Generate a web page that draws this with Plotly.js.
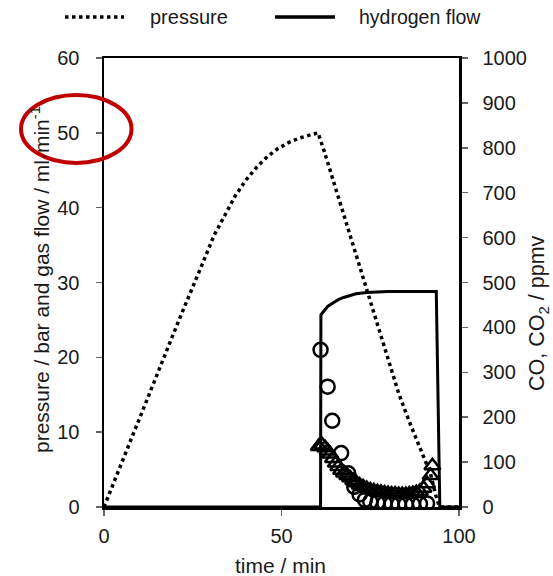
<!DOCTYPE html>
<html><head><meta charset="utf-8">
<script src="https://cdn.plot.ly/plotly-3.0.1.min.js"></script>
<style>html,body{margin:0;padding:0;background:#fff}</style>
</head><body><div id="chart" style="width:553px;height:576px"></div>
<script>
// ---- data ----
const pressureTime = [0, 2, 5, 8, 10, 13, 16, 19, 22, 25, 28, 31, 34, 37, 40, 43, 46, 49, 52, 55, 58, 60.3, 62, 65, 68, 71, 74, 77, 80, 83, 86, 88, 90, 92, 93.5, 94.5, 97, 100];
const pressureBar  = [0, 2.4, 6, 9.6, 12, 15.5, 19, 22.5, 26, 29.3, 32.8, 36.3, 39, 41.6, 43.7, 45.4, 46.8, 47.9, 48.7, 49.3, 49.7, 50, 47.6, 43, 38.3, 33.6, 29, 24.4, 19.8, 15.2, 11.4, 9, 6.6, 4.4, 1.5, 0, 0, 0];

const flowTime = [0, 61, 61.1, 62, 63, 64.6, 66, 67.5, 69.3, 71, 74, 77, 80, 90, 93.6, 94.6, 100];
const flowMl   = [0, 0, 25.7, 26.2, 26.8, 27.3, 27.7, 28.0, 28.3, 28.5, 28.65, 28.75, 28.8, 28.8, 28.8, 0, 0];

const coTime = [61, 63, 64.3, 66.8, 68.8, 70.5, 72, 73.5, 75, 77, 79, 81, 83, 85, 87, 89, 91];
const coPpm  = [350, 268, 192, 120, 75, 45, 28, 16, 12, 10, 8, 7, 6, 6, 6, 7, 8];

const co2Time = [60.5, 61.5, 62.3, 63, 63.7, 64.5, 65.3, 66, 66.8, 67.6, 68.5, 69.3, 70.2, 71.1, 72, 73, 74, 75, 76, 77, 78, 79, 80, 81, 82, 83, 84, 85, 86, 87, 88, 89, 90, 91, 92, 92.5];
const co2Ppm  = [135, 138, 132, 125, 118, 108, 98, 90, 82, 76, 70, 65, 59, 54, 49, 45, 41, 38, 36, 34, 33, 31, 30, 29, 29, 28, 28, 28, 29, 30, 32, 35, 42, 52, 70, 92];

const xTicks = [0, 50, 100];
const legendNames = ['pressure', 'hydrogen flow'];
const leftTitle = 'pressure / bar and gas flow / ml·min<sup>-1</sup>';
const rightTitle = 'CO, CO<sub>2</sub> / ppmv';
const xTitle = 'time / min';

// ---- chart ----
const FONT = 'Liberation Sans, Arial, sans-serif';
const DOT = '3.5px,3.5px';

const traces = [
  {x: pressureTime, y: pressureBar, mode: 'lines', name: legendNames[0], showlegend: false,
   line: {color: '#000', width: 3.5, dash: DOT}},
  {x: flowTime, y: flowMl, mode: 'lines', name: legendNames[1], showlegend: false,
   line: {color: '#000', width: 3}},
  {x: coTime, y: coPpm, yaxis: 'y2', mode: 'markers', name: 'CO', showlegend: false,
   marker: {symbol: 'circle-open', size: 14, color: '#000', line: {width: 2.5, color: '#000'}}},
  {x: co2Time, y: co2Ppm, yaxis: 'y2', mode: 'markers', name: 'CO2', showlegend: false,
   marker: {symbol: 'triangle-up-open', size: 14, color: '#000', line: {width: 2.5, color: '#000'}}}
];

const L = 104, R = 459, T = 58, B = 507, W = 553, H = 576;
const px = v => (v - L) / (R - L);
const py = v => (B - v) / (B - T);

const axisCommon = {
  showgrid: false, zeroline: false, showline: true, linecolor: '#000', linewidth: 2.5,
  ticks: 'outside', ticklen: 6, tickwidth: 1.5, tickcolor: '#666',
  tickfont: {family: FONT, size: 20, color: '#1a1a1a'}
};

const layout = {
  width: W, height: H,
  margin: {l: L, r: W - R, t: T, b: H - B, pad: 0},
  paper_bgcolor: '#fff', plot_bgcolor: '#fff',
  showlegend: false,
  xaxis: Object.assign({}, axisCommon, {range: [0, 100], tickvals: xTicks, mirror: true, ticklabelstandoff: 3}),
  yaxis: Object.assign({}, axisCommon, {range: [0, 60], dtick: 10, ticklabelstandoff: 12}),
  yaxis2: Object.assign({}, axisCommon, {range: [0, 1000], dtick: 100, overlaying: 'y', side: 'right', ticklabelstandoff: 11}),
  shapes: [
    {type: 'line', xref: 'paper', yref: 'paper', x0: px(65), x1: px(124), y0: py(17), y1: py(17),
     line: {color: '#000', width: 3.5, dash: DOT}},
    {type: 'line', xref: 'paper', yref: 'paper', x0: px(275), x1: px(335), y0: py(17), y1: py(17),
     line: {color: '#000', width: 3.5}},
    {type: 'circle', xref: 'paper', yref: 'paper', x0: px(21), x1: px(131.5), y0: py(163), y1: py(95),
     line: {color: '#C00000', width: 4}}
  ],
  annotations: [
    {xref: 'paper', yref: 'paper', x: px(148), y: py(17), xanchor: 'left', yanchor: 'middle', showarrow: false,
     text: legendNames[0], font: {family: FONT, size: 20, color: '#1a1a1a'}},
    {xref: 'paper', yref: 'paper', x: px(357), y: py(17), xanchor: 'left', yanchor: 'middle', showarrow: false,
     text: legendNames[1], font: {family: FONT, size: 19.5, color: '#1a1a1a'}},
    {xref: 'paper', yref: 'paper', x: px(40), y: py(280), xanchor: 'center', yanchor: 'middle', showarrow: false,
     textangle: -90, text: leftTitle, font: {family: FONT, size: 21, color: '#1a1a1a'}},
    {xref: 'paper', yref: 'paper', x: px(538), y: py(313), xanchor: 'center', yanchor: 'middle', showarrow: false,
     textangle: -90, text: rightTitle, font: {family: FONT, size: 21.5, color: '#1a1a1a'}},
    {xref: 'paper', yref: 'paper', x: px(280), y: py(565), xanchor: 'center', yanchor: 'middle', showarrow: false,
     text: xTitle, font: {family: FONT, size: 21, color: '#1a1a1a'}}
  ]
};

Plotly.newPlot('chart', traces, layout, {displayModeBar: false, staticPlot: true});
</script>
</body></html>
